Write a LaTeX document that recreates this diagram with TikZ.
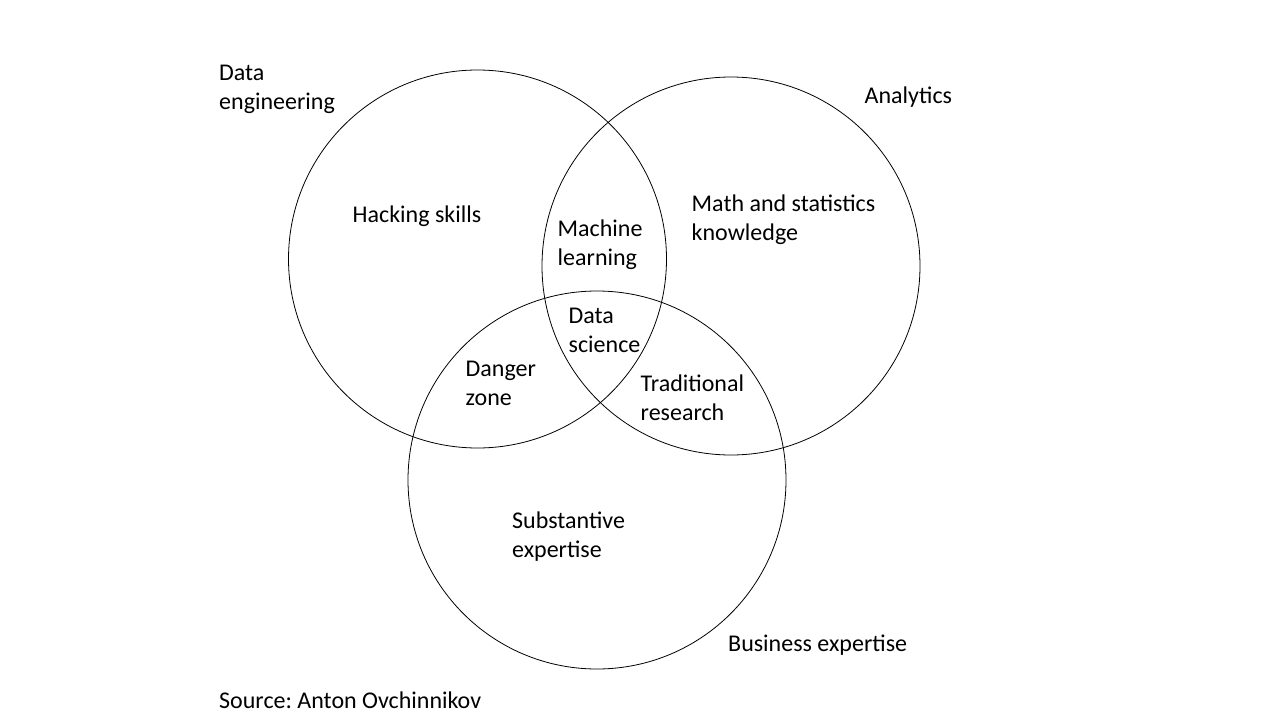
\documentclass[tikz,border=0pt]{standalone}
\usepackage{fontspec}
\setmainfont{Carlito}
\frenchspacing
\begin{document}
\begin{tikzpicture}[x=1pt,y=-1pt,
  ring/.style={draw=black,line width=0.8pt},
  lbl/.style={anchor=base west,inner sep=0pt,font=\fontsize{24}{29}\selectfont}]
\useasboundingbox (0,0) rectangle (1280,720);
\fill[white] (0,0) rectangle (1280,720);
\draw[ring] (477.5,259) circle[radius=189];
\draw[ring] (731,266) circle[radius=189];
\draw[ring] (597,480) circle[radius=189];
\newcommand{\twolines}[2]{\begin{tabular}[t]{@{}l@{}}#1\\#2\end{tabular}}
\node[lbl] (de) at (219,80.7) {\twolines{Data}{engineering}};
\node[lbl] (an) at (864.5,103.3) {Analytics};
\node[lbl] (hs) at (352.5,222.3) {Hacking skills};
\node[lbl] (ml) at (557.5,236.7) {\twolines{Machine}{learning}};
\node[lbl] (ms) at (691.5,211.7) {\twolines{Math and statistics}{knowledge}};
\node[lbl] (ds) at (568.5,323.3) {\twolines{Data}{science}};
\node[lbl] (dz) at (465.5,376.7) {\twolines{Danger}{zone}};
\node[lbl] (tr) at (640.5,391.7) {\twolines{Traditional}{research}};
\node[lbl] (se) at (512,528.3) {\twolines{Substantive}{expertise}};
\node[lbl] (be) at (728,651) {Business expertise};
\node[lbl] (src) at (219,708) {Source:\ Anton Ovchinnikov};
\end{tikzpicture}
\end{document}
